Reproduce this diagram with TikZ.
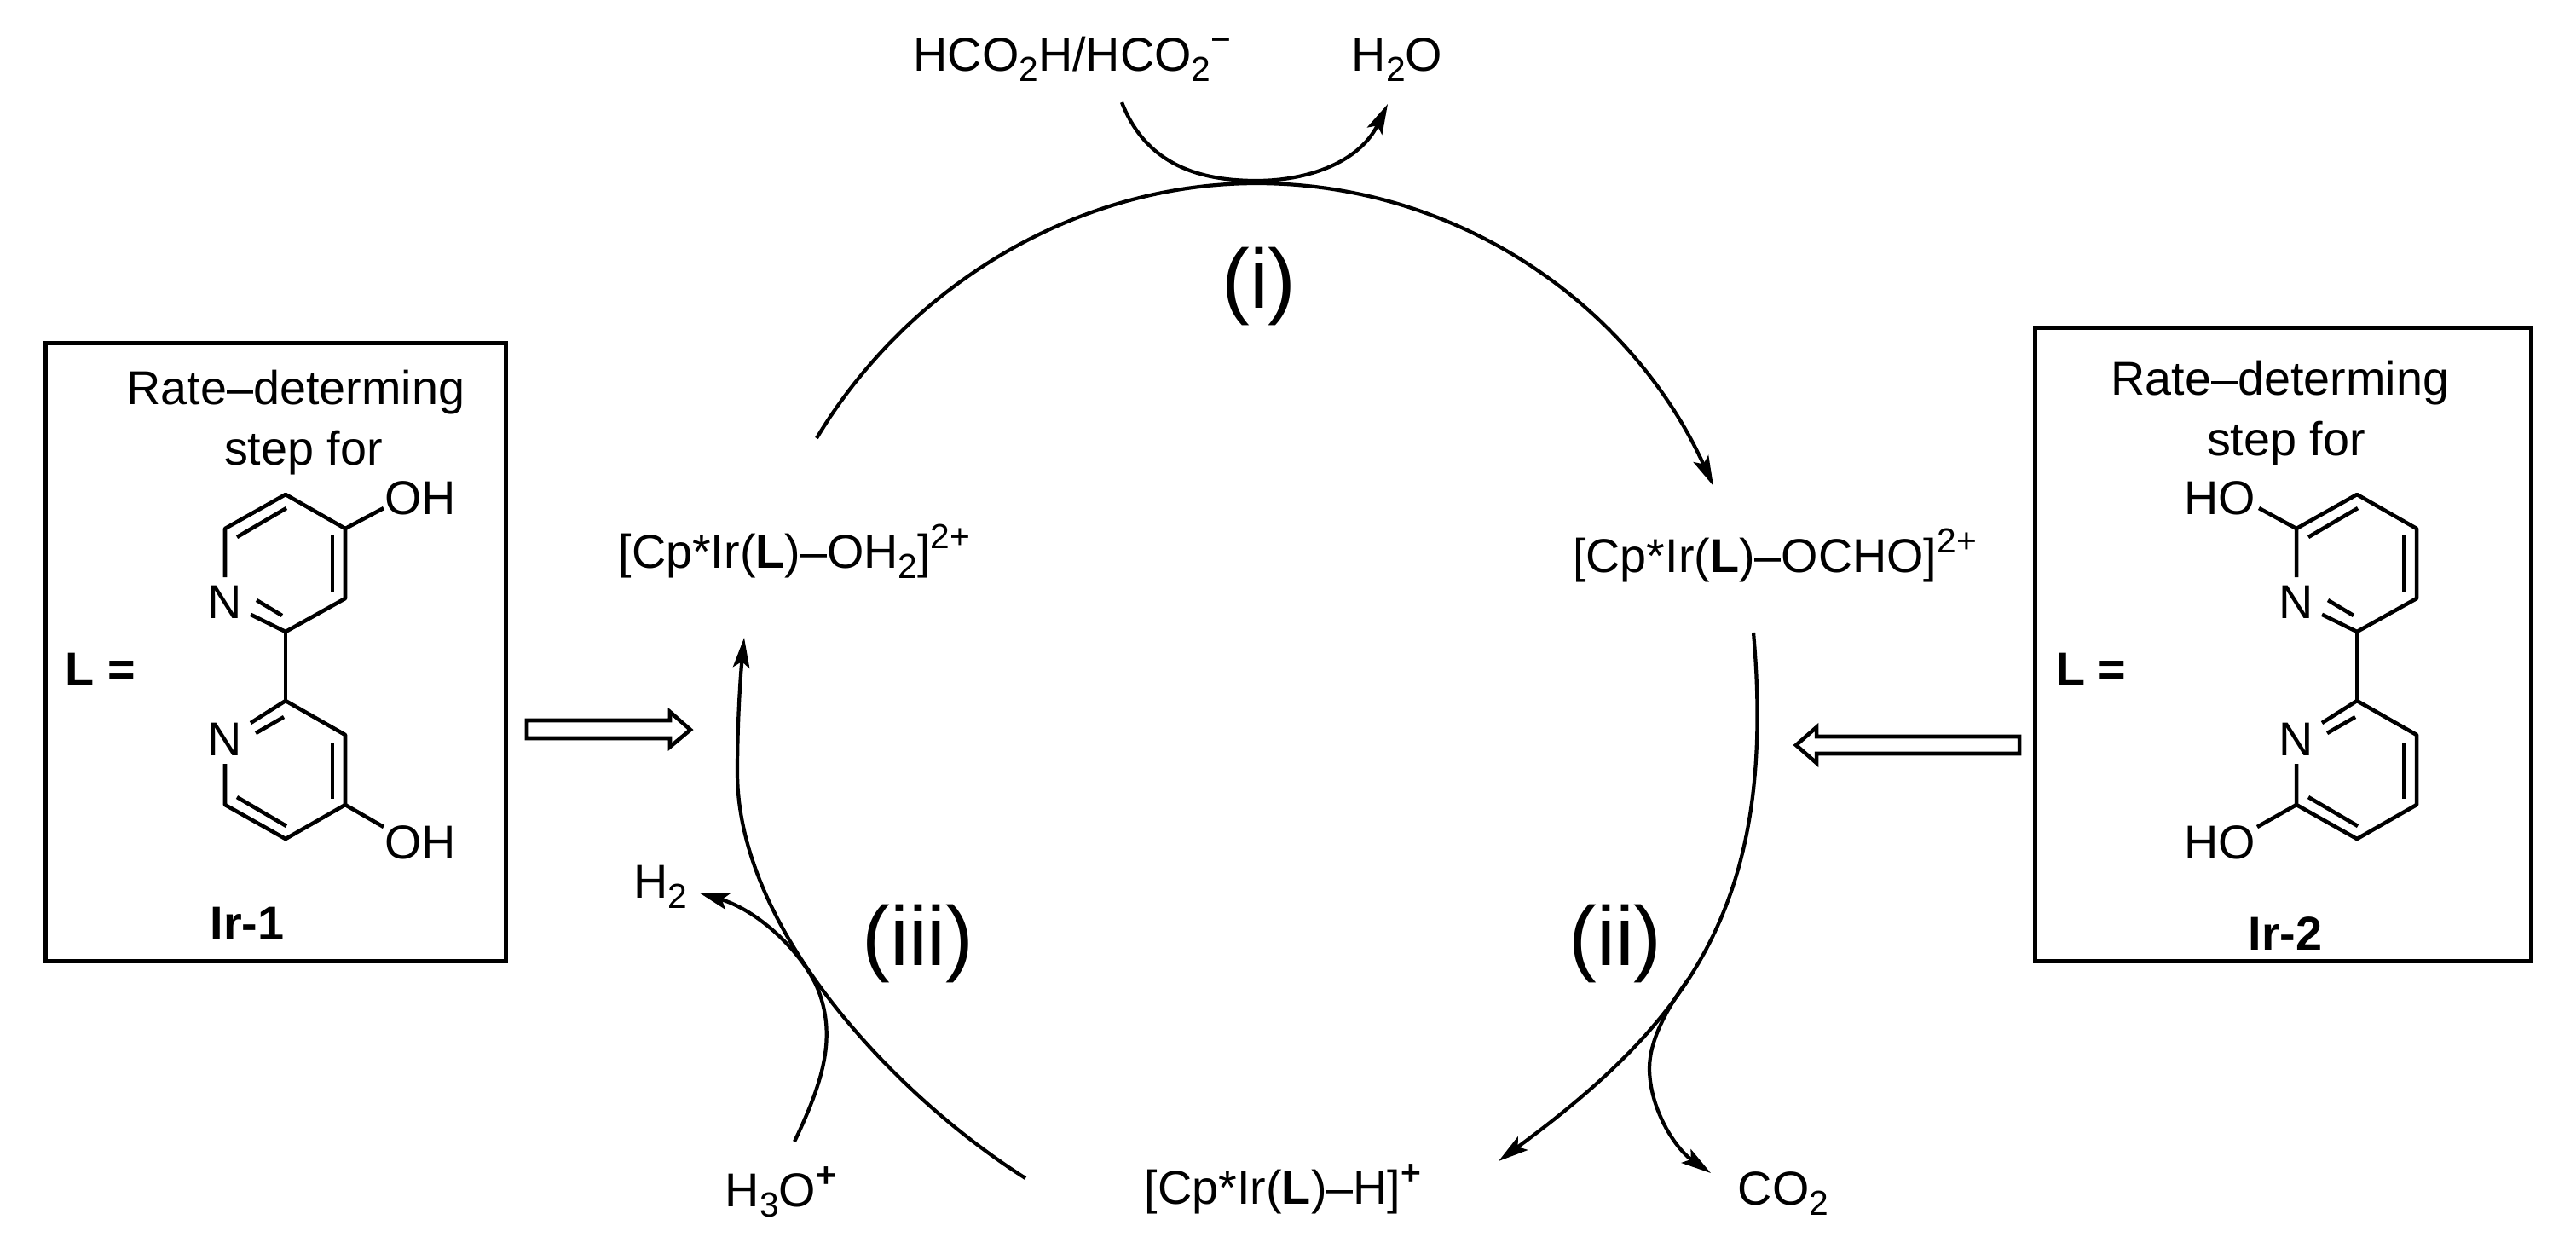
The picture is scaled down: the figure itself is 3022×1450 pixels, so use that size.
\documentclass[tikz,border=0pt]{standalone}
\usepackage{fontspec}
\setmainfont{Liberation Sans}
\usetikzlibrary{arrows.meta}
\newcommand\chemsub[1]{\raisebox{-3.6pt}{\fontsize{11.6}{12}\selectfont #1}}
\newcommand\chemsup[1]{\raisebox{6.5pt}{\fontsize{11.6}{12}\selectfont #1}}
\newcommand\bipy[2]{%
  \begin{scope}[shift={(#1,0)}]
    \coordinate (#2a1) at (335,580);
    \coordinate (#2a2) at (264,620);
    \node[atom] (#2na) at (264,706) {N};
    \coordinate (#2a3) at (335,741);
    \coordinate (#2a4) at (405,702);
    \coordinate (#2a5) at (405,620);
    \coordinate (#2b3) at (335,822);
    \node[atom] (#2nb) at (264,867) {N};
    \coordinate (#2b4) at (405,862);
    \coordinate (#2b5) at (405,944);
    \coordinate (#2b1) at (335,984);
    \coordinate (#2b2) at (264,944);
    \draw[bond] (#2na) -- (#2a2) -- (#2a1) -- (#2a5) -- (#2a4) -- (#2a3) -- (#2na);
    \draw[bond] (#2a3) -- (#2b3);
    \draw[bond] (#2nb) -- (#2b3) -- (#2b4) -- (#2b5) -- (#2b1) -- (#2b2) -- (#2nb);
    \draw[bond] (278,630) -- (336,596);
    \draw[bond] (390,627) -- (390,694);
    \draw[bond] (301,704) -- (331,722);
    \draw[bond] (300,860) -- (333,841);
    \draw[bond] (390,871) -- (390,937);
    \draw[bond] (278,935) -- (336,969);
  \end{scope}}
\tikzset{
  txt/.style={inner sep=0pt,font=\fontsize{15.85}{18}\selectfont,anchor=base},
  atom/.style={inner sep=2.6pt,font=\fontsize{15.85}{18}\selectfont},
  group/.style={inner sep=0pt,font=\fontsize{15.85}{18}\selectfont},
  steplabel/.style={inner sep=0pt,font=\fontsize{28}{32}\selectfont},
  bond/.style={line width=1.3pt,line join=round},
  framebox/.style={draw,line width=1.4pt},
  cyc/.style={line width=1.2pt,-{Stealth[length=10pt,width=5.5pt,inset=2pt]}},
  side/.style={line width=1.2pt,-{Stealth[length=10pt,width=5.5pt,inset=2pt]}},
  hollow/.style={draw,line width=1.3pt,fill=white,line join=miter}
}
\begin{document}
\begin{tikzpicture}[x=0.01cm,y=-0.01cm]
\useasboundingbox (0,0) rectangle (3022,1450);
% boxes
\node[framebox,minimum width=5.39cm,minimum height=7.24cm,inner sep=0pt] (leftbox) at (323.5,765) {};
\node[framebox,minimum width=5.81cm,minimum height=7.42cm,inner sep=0pt] (rightbox) at (2678.5,756) {};
% left panel
\node[txt] (lrate) at (347,474) {Rate–determing};
\node[txt] (lstep) at (356,545) {step for};
\node[txt,font=\fontsize{15.85}{18}\selectfont\bfseries] (leq) at (118,804) {L =};
\node[txt,font=\fontsize{15.85}{18}\selectfont\bfseries] (lname) at (290,1102) {Ir-1};
\bipy{0}{l}
\node[group] (loh1) at (493,584) {OH};
\node[group] (loh2) at (493,988) {OH};
\coordinate (lo1e) at (450,596);
\coordinate (lo2e) at (450,970);
\draw[bond] (la5) -- (lo1e);
\draw[bond] (lb5) -- (lo2e);
% right panel
\node[txt] (rrate) at (2675,463) {Rate–determing};
\node[txt] (rstep) at (2682,534) {step for};
\node[txt,font=\fontsize{15.85}{18}\selectfont\bfseries] (req) at (2453,804) {L =};
\node[txt,font=\fontsize{15.85}{18}\selectfont\bfseries] (rname) at (2681,1114) {Ir-2};
\bipy{2430}{r}
\node[group] (roh1) at (2604,584) {HO};
\node[group] (roh2) at (2604,988) {HO};
\coordinate (ro1e) at (2650,596);
\coordinate (ro2e) at (2648,970);
\draw[bond] (ra2) -- (ro1e);
\draw[bond] (rb2) -- (ro2e);
% species
\node[txt] (oh2) at (932,666) {[Cp*Ir(\textbf{L})–OH\chemsub{2}]\chemsup{2+}};
\node[txt] (ocho) at (2082,671) {[Cp*Ir(\textbf{L})–OCHO]\chemsup{2+}};
\node[txt] (hyd) at (1505,1412) {[Cp*Ir(\textbf{L})–H]\chemsup{\textbf{+}}};
\node[txt] (formic) at (1258,83) {HCO\chemsub{2}H/HCO\chemsub{2}\chemsup{−}};
\node[txt] (water) at (1639,83) {H\chemsub{2}O};
\node[txt] (hyd2) at (775,1053) {H\chemsub{2}};
\node[txt] (hydronium) at (916,1415) {H\chemsub{3}O\chemsup{\textbf{+}}};
\node[txt] (co2) at (2092,1413) {CO\chemsub{2}};
\node[steplabel] (si) at (1477,336) {(i)};
\node[steplabel] (sii) at (1895,1107) {(ii)};
\node[steplabel] (siii) at (1077,1107) {(iii)};
% named ends
\coordinate (i0) at (958,514);
\coordinate (itop) at (1474,215);
\coordinate (i1) at (2010,570);
\coordinate (ii0) at (2057,742);
\coordinate (ii1) at (1758,1362);
\coordinate (iii0) at (1203,1382);
\coordinate (iiim) at (865,906);
\coordinate (iii1) at (873,748);
\coordinate (w0) at (1316,120);
\coordinate (wm) at (1474,212);
\coordinate (w1) at (1628,122);
\coordinate (h0) at (932,1339);
\coordinate (hm) at (962,1167);
\coordinate (h1) at (820,1047);
\coordinate (c0) at (1981,1148);
\coordinate (cm) at (1935,1253);
\coordinate (c1) at (2007,1376);
% cycle
\draw[cyc] (i0) .. controls (1066,334) and (1264,215) .. (itop) .. controls (1709,215) and (1912,356) .. (i1);
\draw[cyc] (ii0) .. controls (2085,1060) and (1982,1197) .. (ii1);
\draw[cyc] (iii0) .. controls (1050,1285) and (865,1090) .. (iiim) .. controls (865,853) and (868,800) .. (iii1);
% side arrows
\draw[side] (w0) .. controls (1345,195) and (1410,212) .. (wm) .. controls (1535,212) and (1595,190) .. (w1);
\draw[side] (h0) .. controls (965,1270) and (980,1220) .. (hm) .. controls (948,1125) and (895,1070) .. (h1);
\draw[side] (c0) .. controls (1950,1190) and (1935,1225) .. (cm) .. controls (1935,1300) and (1965,1347) .. (c1);
% hollow arrows
\draw[hollow] (618,845) -- (786,845) -- (786,835) -- (810,856) -- (786,876) -- (786,866) -- (618,866) -- cycle;
\draw[hollow] (2369,864) -- (2131,864) -- (2131,853) -- (2107,874) -- (2131,895) -- (2131,884) -- (2369,884) -- cycle;
\end{tikzpicture}
\end{document}
